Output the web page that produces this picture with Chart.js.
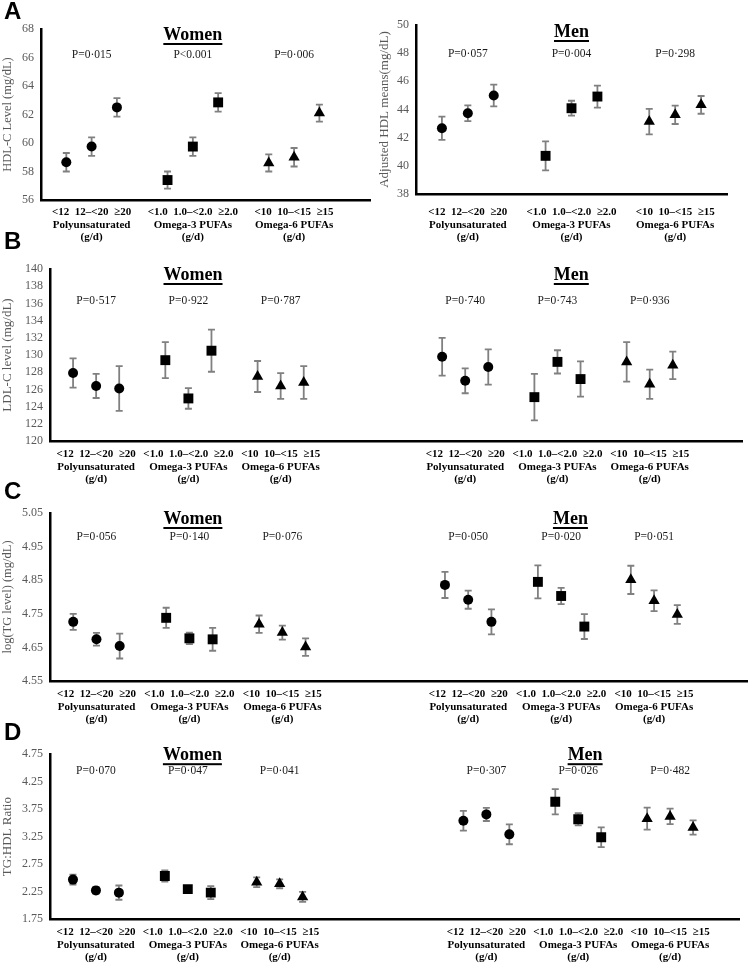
<!DOCTYPE html>
<html>
<head>
<meta charset="utf-8">
<script src="https://cdn.jsdelivr.net/npm/chart.js@4.4.1/dist/chart.umd.min.js"></script>
<style>
  body { margin: 0; background: #fff; }
  #page { position: relative; width: 754px; height: 965px; overflow: hidden; }
  .box { position: absolute; }
  .letter { position: absolute; left: 4px; font: bold 24px 'Liberation Sans', Arial, sans-serif; line-height: 1; color: #000; }
</style>
</head>
<body>
<div id="page">
  <div class="box" style="left:0;top:0;width:377px;height:250px"><canvas id="hdlWomen"></canvas></div>
  <div class="box" style="left:377px;top:0;width:377px;height:250px"><canvas id="hdlMen"></canvas></div>
  <div class="box" style="left:0;top:220px;width:754px;height:270px"><canvas id="ldl"></canvas></div>
  <div class="box" style="left:0;top:490px;width:754px;height:250px"><canvas id="tg"></canvas></div>
  <div class="box" style="left:0;top:740px;width:754px;height:225px"><canvas id="ratio"></canvas></div>
  <div class="letter" style="top:-1px">A</div>
  <div class="letter" style="top:229px">B</div>
  <div class="letter" style="top:479px">C</div>
  <div class="letter" style="top:720px">D</div>
</div>
<script>
// categories
var groupNames = ['Polyunsaturated', 'Omega-3 PUFAs', 'Omega-6 PUFAs'];
var polyLevels = ['<12', '12\u2013<20', '\u226520'];
var omega3Levels = ['<1.0', '1.0\u2013<2.0', '\u22652.0'];
var omega6Levels = ['<10', '10\u2013<15', '\u226515'];

// each series: 3 polyunsaturated, 3 omega-3, 3 omega-6 (mean, +/- error)
// A: HDL-C
var hdlWomenMean = [58.65, 59.75, 62.5, 57.4, 59.75, 62.85, 58.6, 59.0, 62.1];
var hdlWomenErr = [0.65, 0.65, 0.65, 0.6, 0.65, 0.65, 0.6, 0.65, 0.6];
var hdlWomenP = ['P=0\u00b7015', 'P<0.001', 'P=0\u00b7006'];
var hdlMenMean = [42.67, 43.74, 44.99, 40.71, 44.09, 44.92, 43.14, 43.62, 44.33];
var hdlMenErr = [0.82, 0.56, 0.77, 1.03, 0.53, 0.78, 0.9, 0.65, 0.63];
var hdlMenP = ['P=0\u00b7057', 'P=0\u00b7004', 'P=0\u00b7298'];
var hdlWomenTicks = [56, 58, 60, 62, 64, 66, 68];
var hdlMenTicks = [38, 40, 42, 44, 46, 48, 50];

// B: LDL-C
var ldlWomenMean = [127.9, 126.4, 126.1, 129.4, 124.95, 130.5, 127.5, 126.4, 126.8];
var ldlWomenErr = [1.7, 1.4, 2.6, 2.1, 1.2, 2.45, 1.8, 1.5, 1.9];
var ldlWomenP = ['P=0\u00b7517', 'P=0\u00b7922', 'P=0\u00b7787'];
var ldlMenMean = [129.8, 127.0, 128.6, 125.1, 129.2, 127.2, 129.2, 126.6, 128.8];
var ldlMenErr = [2.2, 1.45, 2.05, 2.7, 1.35, 2.05, 2.3, 1.7, 1.6];
var ldlMenP = ['P=0\u00b7740', 'P=0\u00b7743', 'P=0\u00b7936'];
var ldlTicks = [120, 122, 124, 126, 128, 130, 132, 134, 136, 138, 140];

// C: log(TG)
var tgWomenMean = [4.726, 4.674, 4.654, 4.738, 4.677, 4.674, 4.719, 4.694, 4.651];
var tgWomenErr = [0.024, 0.019, 0.037, 0.03, 0.017, 0.034, 0.026, 0.021, 0.026];
var tgWomenP = ['P=0\u00b7056', 'P=0\u00b7140', 'P=0\u00b7076'];
var tgMenMean = [4.836, 4.792, 4.726, 4.845, 4.803, 4.712, 4.851, 4.789, 4.748];
var tgMenErr = [0.039, 0.027, 0.037, 0.049, 0.024, 0.037, 0.042, 0.031, 0.028];
var tgMenP = ['P=0\u00b7050', 'P=0\u00b7020', 'P=0\u00b7051'];
var tgTicks = [4.55, 4.65, 4.75, 4.85, 4.95, 5.05];

// D: TG:HDL ratio
var ratioWomenMean = [2.467, 2.271, 2.23, 2.533, 2.294, 2.23, 2.419, 2.39, 2.152];
var ratioWomenErr = [0.09, 0.06, 0.13, 0.1, 0.03, 0.12, 0.09, 0.08, 0.09];
var ratioWomenP = ['P=0\u00b7070', 'P=0\u00b7047', 'P=0\u00b7041'];
var ratioMenMean = [3.54, 3.654, 3.291, 3.885, 3.565, 3.238, 3.576, 3.618, 3.415];
var ratioMenErr = [0.18, 0.12, 0.18, 0.23, 0.11, 0.18, 0.2, 0.14, 0.13];
var ratioMenP = ['P=0\u00b7307', 'P=0\u00b7026', 'P=0\u00b7482'];
var ratioTicks = [1.75, 2.25, 2.75, 3.25, 3.75, 4.25, 4.75];

(function () {
  var serif = "'Liberation Serif', 'Times New Roman', serif";
  var levelSets = [polyLevels, omega3Levels, omega6Levels];
  var markerStyles = ['circle', 'rect', 'triangle'];
  var markerRadius = [5, 7, 6.5];

  // slot of point i in group g for a block starting at `start`
  function slot(start, g, i) { return start + g * 4 + i + 1; }

  function groupDatasets(mean, err, start) {
    return markerStyles.map(function (style, g) {
      return {
        data: [0, 1, 2].map(function (i) { return { x: slot(start, g, i), y: mean[g * 3 + i] }; }),
        errors: err.slice(g * 3, g * 3 + 3),
        pointStyle: style,
        pointRadius: markerRadius[g],
        pointHoverRadius: markerRadius[g],
        pointBackgroundColor: '#000',
        pointBorderColor: '#000',
        pointBorderWidth: 0,
        showLine: false
      };
    });
  }

  var errorBars = {
    id: 'errorBars',
    beforeDatasetsDraw: function (chart) {
      var ctx = chart.ctx, y = chart.scales.y;
      ctx.save();
      ctx.strokeStyle = '#808080';
      ctx.lineWidth = 1.8;
      chart.data.datasets.forEach(function (ds, di) {
        chart.getDatasetMeta(di).data.forEach(function (pt, i) {
          var v = ds.data[i].y, e = ds.errors[i];
          var top = y.getPixelForValue(v + e), bot = y.getPixelForValue(v - e);
          ctx.beginPath();
          ctx.moveTo(pt.x, top); ctx.lineTo(pt.x, bot);
          ctx.moveTo(pt.x - 3.5, top); ctx.lineTo(pt.x + 3.5, top);
          ctx.moveTo(pt.x - 3.5, bot); ctx.lineTo(pt.x + 3.5, bot);
          ctx.stroke();
        });
      });
      ctx.restore();
    }
  };

  function textPlugin(cfg) {
    return {
      id: 'panelText',
      afterDraw: function (chart) {
        var ctx = chart.ctx, x = chart.scales.x, top = chart.chartArea.top;
        ctx.save();
        ctx.textAlign = 'center';
        ctx.textBaseline = 'middle';
        cfg.sets.forEach(function (s) {
          ctx.fillStyle = '#000';
          ctx.font = 'bold 18px ' + serif;
          var px = x.getPixelForValue(s.titleX), py = top + cfg.titleDy;
          ctx.fillText(s.title, px, py);
          var w = ctx.measureText(s.title).width;
          ctx.fillRect(px - w / 2, py + 8, w, 2);
          ctx.font = '11.5px ' + serif;
          ctx.fillStyle = '#1a1a1a';
          s.p.forEach(function (txt, g) {
            ctx.fillText(txt, x.getPixelForValue(slot(s.start, g, 1)), top + cfg.pDy);
          });
        });
        ctx.restore();
      }
    };
  }

  function makePanel(id, cfg) {
    var datasets = [];
    var tickLabels = {};
    cfg.sets.forEach(function (s) {
      datasets = datasets.concat(groupDatasets(s.mean, s.err, s.start));
      levelSets.forEach(function (lv, g) {
        tickLabels[slot(s.start, g, 1)] = [lv.join('  '), groupNames[g], '(g/d)'];
      });
    });
    var xTickValues = Object.keys(tickLabels).map(Number);

    new Chart(document.getElementById(id), {
      type: 'scatter',
      data: { datasets: datasets },
      options: {
        responsive: true,
        maintainAspectRatio: false,
        animation: false,
        layout: { padding: { top: cfg.padTop, right: cfg.padRight, left: 0, bottom: 0 } },
        plugins: { legend: { display: false }, tooltip: { enabled: false } },
        scales: {
          x: {
            type: 'linear',
            min: 0,
            max: cfg.xMax,
            grid: { display: false, drawTicks: false },
            border: { display: true, color: '#000', width: 2.5 },
            afterBuildTicks: function (scale) {
              scale.ticks = xTickValues.map(function (v) { return { value: v }; });
            },
            afterFit: function (scale) { scale.height = cfg.xHeight; },
            ticks: {
              autoSkip: false,
              maxRotation: 0,
              padding: cfg.xTickPad,
              color: '#000',
              font: { family: serif, size: 11, weight: 'bold', lineHeight: 1.15 },
              callback: function (v) { return tickLabels[v] || ''; }
            }
          },
          y: {
            min: cfg.yTicks[0],
            max: cfg.yTicks[cfg.yTicks.length - 1],
            grid: { display: false, drawTicks: false },
            border: { display: true, color: '#000', width: 2.5 },
            afterBuildTicks: function (scale) {
              scale.ticks = cfg.yTicks.map(function (v) { return { value: v }; });
            },
            afterFit: function (scale) { scale.width = cfg.yWidth; },
            ticks: {
              autoSkip: false,
              padding: 7,
              color: '#595959',
              font: { family: serif, size: cfg.yTickSize },
              callback: function (v) { return cfg.decimals ? Number(v).toFixed(cfg.decimals) : String(v); }
            },
            title: {
              display: true,
              text: cfg.yTitle,
              color: '#595959',
              font: { family: serif, size: cfg.yTitleSize },
              padding: { top: 0, bottom: 0 }
            }
          }
        }
      },
      plugins: [errorBars, textPlugin(cfg)]
    });
  }

  makePanel('hdlWomen', {
    sets: [{ mean: hdlWomenMean, err: hdlWomenErr, p: hdlWomenP, start: 0, title: 'Women', titleX: 6 }],
    yTicks: hdlWomenTicks, yTitle: 'HDL-C Level (mg/dL)', yTitleSize: 12.5, yTickSize: 12,
    xMax: 13, padTop: 29, padRight: 2, yWidth: 41, xHeight: 50, xTickPad: 6,
    titleDy: 6, pDy: 26
  });

  makePanel('hdlMen', {
    sets: [{ mean: hdlMenMean, err: hdlMenErr, p: hdlMenP, start: 0, title: 'Men', titleX: 6 }],
    yTicks: hdlMenTicks, yTitle: 'Adjusted HDL means(mg/dL)', yTitleSize: 13, yTickSize: 12,
    xMax: 12, padTop: 25, padRight: 27, yWidth: 39, xHeight: 56, xTickPad: 12,
    titleDy: 7, pDy: 29
  });

  makePanel('ldl', {
    sets: [
      { mean: ldlWomenMean, err: ldlWomenErr, p: ldlWomenP, start: 0, title: 'Women', titleX: 6.2 },
      { mean: ldlMenMean, err: ldlMenErr, p: ldlMenP, start: 16, title: 'Men', titleX: 22.6 }
    ],
    yTicks: ldlTicks, yTitle: 'LDL-C level (mg/dL)', yTitleSize: 13, yTickSize: 12,
    xMax: 30, padTop: 49, padRight: 12, yWidth: 50, xHeight: 49, xTickPad: 7,
    titleDy: 6, pDy: 32
  });

  makePanel('tg', {
    sets: [
      { mean: tgWomenMean, err: tgWomenErr, p: tgWomenP, start: 0, title: 'Women', titleX: 6.15 },
      { mean: tgMenMean, err: tgMenErr, p: tgMenP, start: 16, title: 'Men', titleX: 22.4 }
    ],
    yTicks: tgTicks, yTitle: 'log(TG level) (mg/dL)', yTitleSize: 12.5, yTickSize: 12, decimals: 2,
    xMax: 30, padTop: 23, padRight: 2, yWidth: 50, xHeight: 59, xTickPad: 7,
    titleDy: 6, pDy: 24
  });

  makePanel('ratio', {
    sets: [
      { mean: ratioWomenMean, err: ratioWomenErr, p: ratioWomenP, start: 0, title: 'Women', titleX: 6.2 },
      { mean: ratioMenMean, err: ratioMenErr, p: ratioMenP, start: 17, title: 'Men', titleX: 23.3 }
    ],
    yTicks: ratioTicks, yTitle: 'TG:HDL Ratio', yTitleSize: 13, yTickSize: 12, decimals: 2,
    xMax: 30, padTop: 11, padRight: 15, yWidth: 50, xHeight: 46, xTickPad: 7,
    titleDy: 1, pDy: 17
  });
})();
</script>
</body>
</html>
